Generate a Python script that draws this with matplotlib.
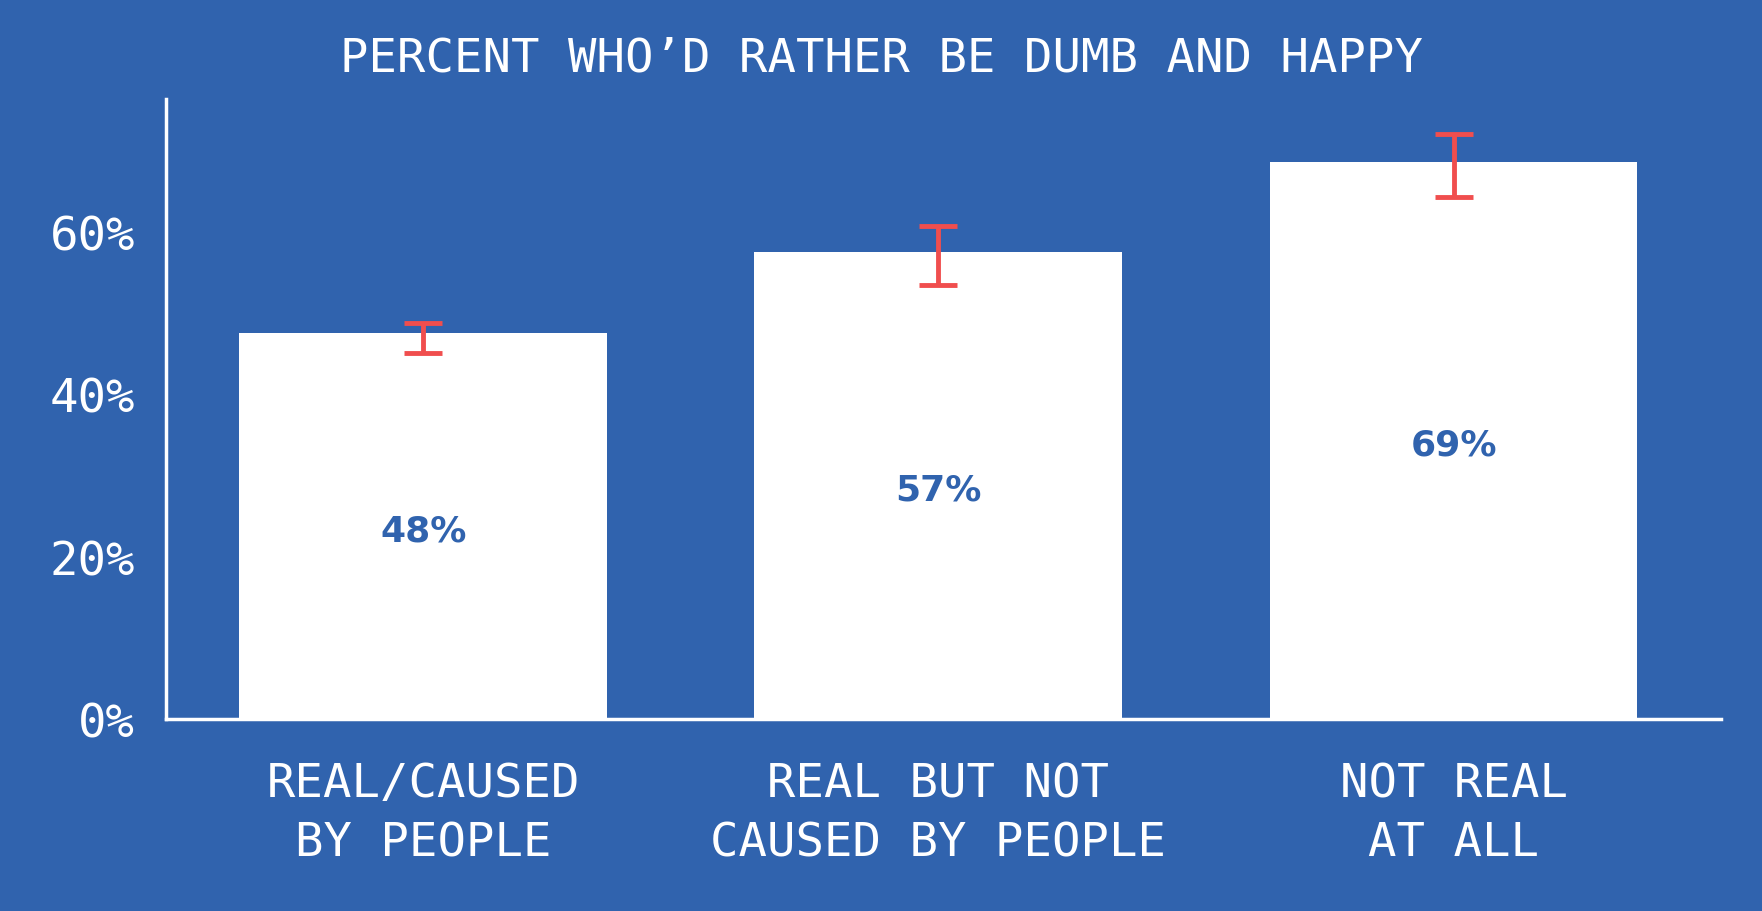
import matplotlib.pyplot as plt

categories = ["REAL/CAUSED\nBY PEOPLE", "REAL BUT NOT\nCAUSED BY PEOPLE", "NOT REAL\nAT ALL"]
values = [47.5, 57.5, 68.6]
labels = ["48%", "57%", "69%"]
err_low = [45.1, 53.5, 64.3]
err_high = [48.8, 60.7, 72.0]

BG = "#3063ae"
fig = plt.figure(figsize=(17.62, 9.12), dpi=100, facecolor=BG)
ax = fig.add_axes([0.094, 0.21, 0.883, 0.68], facecolor=BG)

x = range(len(categories))
ax.bar(x, values, width=0.714, color="white", zorder=2)
yerr = [[v - lo for v, lo in zip(values, err_low)], [hi - v for v, hi in zip(values, err_high)]]
ax.errorbar(x, values, yerr=yerr, fmt="none", ecolor="#f04e4e", elinewidth=3.5,
            capsize=14, capthick=3.5, zorder=3)
for i, (v, t) in enumerate(zip(values, labels)):
    ax.text(i, v / 2 - 0.5, t, ha="center", va="center", color=BG,
            fontsize=26, fontweight="bold", family="DejaVu Sans")

ax.set_xlim(-0.5, 2.52)
ax.set_ylim(0, 76.3)
ax.set_yticks([0, 20, 40, 60])
ax.set_yticklabels(["0%", "20%", "40%", "60%"])
ax.set_xticks(list(x))
ax.set_xticklabels(categories, linespacing=1.4)
for s in ["top", "right"]:
    ax.spines[s].set_visible(False)
for s in ["left", "bottom"]:
    ax.spines[s].set_color("white")
    ax.spines[s].set_linewidth(2.5)
ax.tick_params(length=0, colors="white", labelsize=34, pad=22)
for lab in ax.get_xticklabels() + ax.get_yticklabels():
    lab.set_family("DejaVu Sans Mono")
ax.tick_params(axis="x", pad=30)

fig.text(0.5, 0.935, "PERCENT WHO’D RATHER BE DUMB AND HAPPY", ha="center", va="center",
         color="white", fontsize=34, family="DejaVu Sans Mono")

fig.savefig("out.png", dpi=100, facecolor=BG)
plt.close(fig)
